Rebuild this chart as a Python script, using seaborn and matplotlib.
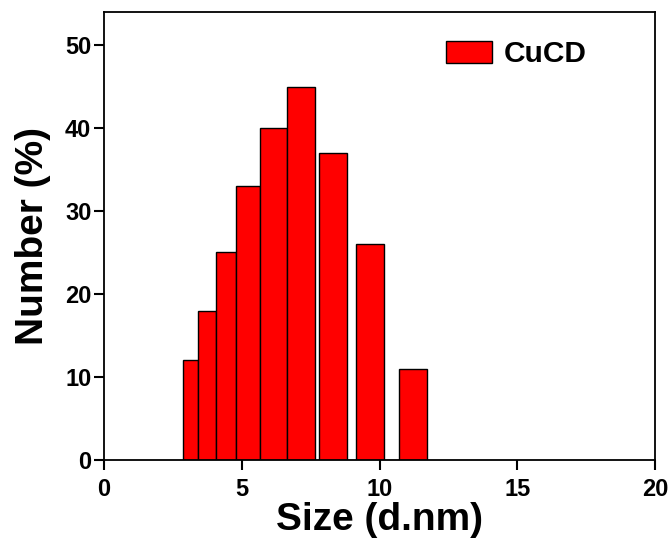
import matplotlib
matplotlib.use("Agg")
import matplotlib.pyplot as plt
import pandas as pd
import seaborn as sns

# DLS size distribution
bar_left = [2.87, 3.42, 4.06, 4.78, 5.65, 6.66, 7.82, 9.16, 10.72]
bar_right = [3.42, 4.06, 4.78, 5.65, 6.66, 7.67, 8.83, 10.17, 11.73]
number = [12, 18, 25, 33, 40, 45, 37, 26, 11]
x_ticks = [0, 5, 10, 15, 20]
y_ticks = [0, 10, 20, 30, 40, 50]

sns.set_theme(style="ticks")
plt.rcParams["font.family"] = ["Liberation Sans", "DejaVu Sans"]
plt.rcParams["font.weight"] = "bold"
for key in ["text.color", "axes.labelcolor", "xtick.color", "ytick.color",
            "axes.edgecolor"]:
    plt.rcParams[key] = "black"

edges = sorted(set(bar_left) | set(bar_right))
df = pd.DataFrame({
    "size": [(l + r) / 2 for l, r in zip(bar_left, bar_right)],
    "number": number,
})

fig = plt.figure(figsize=(6.7, 5.48), dpi=100)
ax = fig.add_axes([0.155, 0.161, 0.823, 0.817])

sns.histplot(data=df, x="size", weights="number", bins=edges,
             color="#ff0000", alpha=1, edgecolor="black", linewidth=1,
             label="CuCD", ax=ax)

ax.set_xlim(0, 20)
ax.set_ylim(0, 54)
ax.set_xticks(x_ticks)
ax.set_yticks(y_ticks)
ax.tick_params(axis="both", direction="out", length=7, width=1.5,
               labelsize=17)
ax.tick_params(axis="x", pad=6)
ax.tick_params(axis="y", pad=2)
for lab in ax.get_xticklabels() + ax.get_yticklabels():
    lab.set_fontweight("bold")
for sp in ax.spines.values():
    sp.set_visible(True)
    sp.set_linewidth(1.3)

ax.set_xlabel("Size (d.nm)", fontsize=28, fontweight="bold", labelpad=1)
ax.set_ylabel("Number (%)", fontsize=28, fontweight="bold", labelpad=10)

ax.legend(loc="center left", bbox_to_anchor=(0.621, 0.906), frameon=False,
          prop={"size": 21.5, "weight": "bold"}, handlelength=1.54,
          handleheight=0.76, handletextpad=0.37, borderpad=0,
          borderaxespad=0)

fig.savefig("out.png", dpi=100)
